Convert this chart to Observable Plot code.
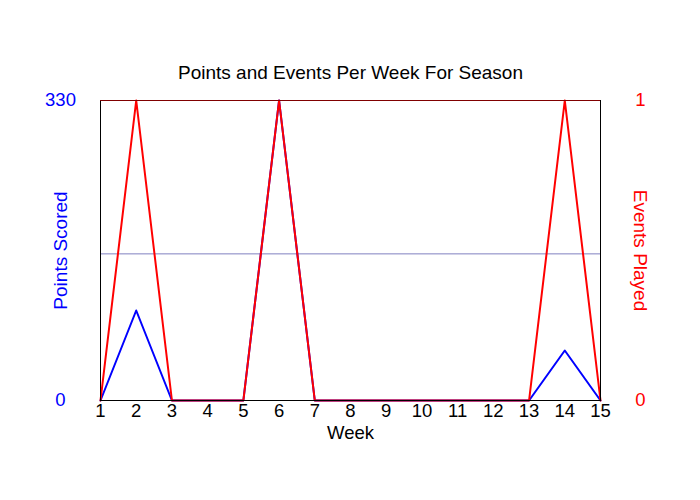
<!DOCTYPE html>
<html>
<head>
<meta charset="utf-8">
<script src="https://cdn.jsdelivr.net/npm/d3@7"></script>
<script src="https://cdn.jsdelivr.net/npm/@observablehq/plot@0.6"></script>
<style>
  html, body { margin: 0; padding: 0; background: #fff; }
  svg { display: block; }
</style>
</head>
<body>
<div id="chart"></div>
<script>
const weeks = [1,2,3,4,5,6,7,8,9,10,11,12,13,14,15];
const points = [0,99,0,0,0,330,0,0,0,0,0,0,0,55,0];
const events = [0,1,0,0,0,1,0,0,0,0,0,0,0,1,0];
const pointsMax = 330;
const eventsMax = 1;
const avgPointsPerEvent = 161.3;
const title = "Points and Events Per Week For Season";

const data = weeks.map((w, i) => ({week: w, points: points[i], events: events[i]}));
const font = "Liberation Sans, Arial, sans-serif";

const chart = Plot.plot({
  width: 700,
  height: 500,
  marginLeft: 100,
  marginRight: 100,
  marginTop: 100,
  marginBottom: 100,
  style: {fontFamily: font, fontSize: "18px", background: "#fff"},
  x: {domain: [1, 15]},
  y: {domain: [0, pointsMax]},
  marks: [
    Plot.ruleY([avgPointsPerEvent], {stroke: "#8080c0", strokeWidth: 1}),
    Plot.line(data, {x: "week", y: "points", stroke: "#0000ff", strokeWidth: 2}),
    Plot.line(data, {x: "week", y: d => d.events / eventsMax * pointsMax, stroke: "#ff0000", strokeWidth: 2}),
    Plot.frame({stroke: "#000"}),
    Plot.ruleY([pointsMax], {stroke: "#800000", strokeWidth: 1}),
    Plot.axisX({ticks: weeks, tickFormat: d => String(d), tickSize: 0, tickPadding: 3, fill: "#000", fontSize: 18.5, label: null}),
    Plot.axisY({anchor: "left", ticks: [0, pointsMax], tickFormat: d => String(d), tickSize: 0, tickPadding: 40, textAnchor: "middle", fill: "#0000ff", fontSize: 18.5, label: null}),
    Plot.axisY({anchor: "right", ticks: [0, pointsMax], tickFormat: d => String(d / pointsMax * eventsMax), tickSize: 0, tickPadding: 40, textAnchor: "middle", fill: "#ff0000", fontSize: 18.5, label: null}),
    Plot.text(["Week"], {frameAnchor: "bottom", dy: 38, fill: "#000", fontSize: 18.5}),
    Plot.text(["Points Scored"], {frameAnchor: "left", textAnchor: "middle", dx: -40, rotate: -90, fill: "#0000ff", fontSize: 19}),
    Plot.text(["Events Played"], {frameAnchor: "right", textAnchor: "middle", dx: 40, rotate: 90, fill: "#ff0000", fontSize: 19}),
    Plot.text([title], {frameAnchor: "top", dy: -35, fill: "#000", fontSize: 19})
  ]
});
document.getElementById("chart").appendChild(chart);
</script>
</body>
</html>
